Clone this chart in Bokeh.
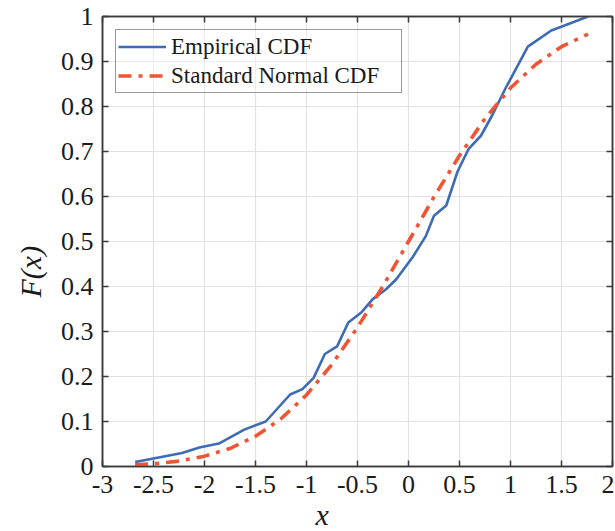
from bokeh.plotting import figure
from bokeh.models import (Range1d, FixedTicker, LinearAxis, Legend, LegendItem, Title)
from bokeh.embed import file_html
from bokeh.resources import INLINE

# ---- data ----
emp_x = [-2.68, -2.45, -2.22, -2.05, -1.86, -1.61, -1.40, -1.16, -1.04, -0.93,
         -0.82, -0.70, -0.59, -0.46, -0.35, -0.22, -0.12, 0.04, 0.17, 0.25,
         0.37, 0.48, 0.59, 0.71, 0.82, 0.95, 1.17, 1.40, 1.53, 1.76]
emp_F = [0.010, 0.020, 0.030, 0.042, 0.051, 0.082, 0.100, 0.160, 0.172, 0.197,
         0.250, 0.267, 0.320, 0.343, 0.372, 0.394, 0.416, 0.465, 0.512, 0.557,
         0.580, 0.655, 0.706, 0.735, 0.780, 0.840, 0.933, 0.969, 0.980, 1.000]

norm_x = [-2.68, -2.5, -2.25, -2.0, -1.75, -1.5, -1.25, -1.0, -0.75, -0.5,
          -0.25, 0.0, 0.25, 0.5, 0.75, 1.0, 1.25, 1.5, 1.76]
norm_F = [0.004, 0.006, 0.012, 0.023, 0.040, 0.067, 0.106, 0.159, 0.227, 0.309,
          0.401, 0.500, 0.599, 0.691, 0.773, 0.841, 0.894, 0.933, 0.961]

x_ticks = [-3, -2.5, -2, -1.5, -1, -0.5, 0, 0.5, 1, 1.5, 2]
x_tick_labels = ["-3", "-2.5", "-2", "-1.5", "-1", "-0.5", "0", "0.5", "1", "1.5", "2"]
y_ticks = [0, 0.1, 0.2, 0.3, 0.4, 0.5, 0.6, 0.7, 0.8, 0.9, 1]
y_tick_labels = ["0", "0.1", "0.2", "0.3", "0.4", "0.5", "0.6", "0.7", "0.8", "0.9", "1"]

series_names = ["Empirical CDF", "Standard Normal CDF"]
x_label = "x"
y_label = "F(x)"

# ---- styling ----
FONT = "Liberation Serif"
BLUE = "#3d6cb4"
RED = "#ef5535"
AXIS = "#3a3a3a"
TEXT = "#1a1a1a"

p = figure(width=614, height=530, output_backend="svg", toolbar_location=None,
           x_range=Range1d(-3, 2), y_range=Range1d(0, 1),
           x_axis_location=None, y_axis_location=None,
           min_border_left=99, min_border_right=2, min_border_top=16,
           min_border_bottom=64)
p.background_fill_color = "white"
p.border_fill_color = "white"
p.outline_line_color = AXIS
p.outline_line_width = 1.5


def style_axis(ax, ticks, labels, show_labels):
    ax.ticker = FixedTicker(ticks=ticks)
    ax.axis_line_color = AXIS
    ax.axis_line_width = 1.5
    ax.major_tick_line_color = AXIS
    ax.major_tick_line_width = 1.5
    ax.major_tick_in = 6
    ax.major_tick_out = 0
    ax.minor_tick_line_color = None
    if show_labels:
        ax.major_label_overrides = {t: s for t, s in zip(ticks, labels)}
        ax.major_label_text_font = FONT
        ax.major_label_text_font_size = "26px"
        ax.major_label_text_color = TEXT
        ax.major_label_text_line_height = 1.0
    else:
        ax.major_label_overrides = {t: "" for t in ticks}
        ax.major_label_text_font_size = "8px"
        ax.major_label_standoff = 0


xb = LinearAxis()
style_axis(xb, x_ticks, x_tick_labels, True)
xb.major_label_standoff = 9
p.add_layout(xb, "below")
yl = LinearAxis()
style_axis(yl, y_ticks, y_tick_labels, True)
yl.major_label_standoff = 9
p.add_layout(yl, "left")
xt = LinearAxis()
style_axis(xt, x_ticks, x_tick_labels, False)
p.add_layout(xt, "above")
yr = LinearAxis()
style_axis(yr, y_ticks, y_tick_labels, False)
p.add_layout(yr, "right")

# axis titles (offset so they sit where the reference has them)
xtitle = Title(text=x_label, align="left", offset=213, standoff=0,
               text_font=FONT, text_font_style="italic", text_font_size="30px",
               text_color=TEXT, text_line_height=0.9)
p.add_layout(xtitle, "below")
ytitle = Title(text=y_label, align="left", offset=169, standoff=22,
               text_font=FONT, text_font_style="italic", text_font_size="30px",
               text_color=TEXT, text_line_height=1.0)
p.add_layout(ytitle, "left")

p.xgrid.ticker = FixedTicker(ticks=x_ticks)
p.ygrid.ticker = FixedTicker(ticks=y_ticks)
p.xgrid.grid_line_color = "#e2e2e2"
p.ygrid.grid_line_color = "#e2e2e2"
p.xgrid.grid_line_width = 1.2
p.ygrid.grid_line_width = 1.2

r_emp = p.line(emp_x, emp_F, line_color=BLUE, line_width=2.6)
r_norm = p.line(norm_x, norm_F, line_color=RED, line_width=3.6, line_dash="13 7 4 7")

legend = Legend(items=[LegendItem(label=series_names[0], renderers=[r_emp]),
                       LegendItem(label=series_names[1], renderers=[r_norm])],
                location="top_left")
legend.margin = 13
legend.padding = 2
legend.spacing = 0
legend.label_text_font = FONT
legend.label_text_font_size = "23px"
legend.label_text_color = TEXT
legend.label_standoff = 5
legend.label_width = 228
legend.label_height = 29
legend.glyph_width = 48
legend.glyph_height = 29
legend.border_line_color = "#333333"
legend.border_line_width = 1.5
legend.background_fill_color = "white"
legend.background_fill_alpha = 0.4
p.add_layout(legend)

open("out.html", "w").write(file_html(p, INLINE))
